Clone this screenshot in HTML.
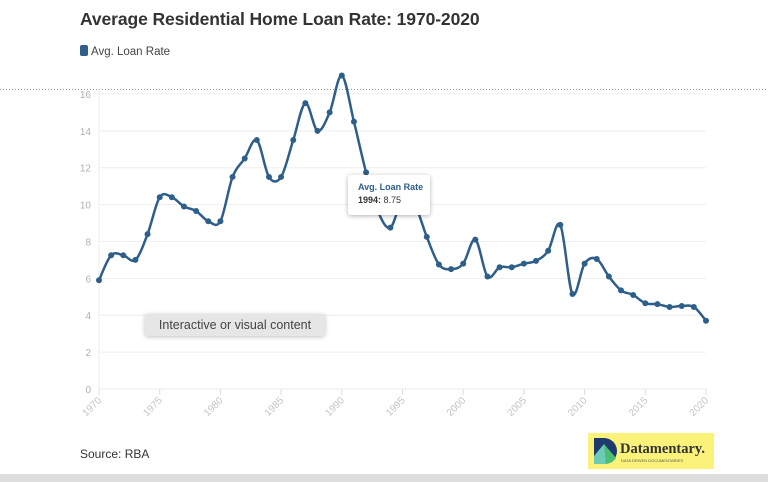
<!DOCTYPE html>
<html><head><meta charset="utf-8"><style>
body{margin:0;width:768px;height:482px;background:#fff;overflow:hidden;position:relative;font-family:"Liberation Sans",sans-serif}
.t{position:absolute;left:80px;top:9px;font-size:17.5px;font-weight:bold;color:#333;letter-spacing:-0.1px}
.lg{position:absolute;left:80px;top:45px;font-size:11.5px;color:#444}
.lg i{display:inline-block;width:8px;height:11px;background:#2e5f8a;border-radius:2px;vertical-align:-1px;margin-right:3px}
.src{position:absolute;left:80px;top:447px;font-size:12px;color:#333}
.tip{position:absolute;left:348px;top:175px;width:82px;height:40px;background:#fff;border-radius:3px;box-shadow:0 1px 5px rgba(0,0,0,.3);font-size:9px;color:#333;padding:6px 0 0 10px;box-sizing:border-box;line-height:13px}
.ov{position:absolute;left:145px;top:314px;width:180px;height:22px;background:#e6e6e6;border-radius:3px;box-shadow:0 1px 5px rgba(0,0,0,.25);font-size:12.5px;color:#444;text-align:center;line-height:22px}
.logo{position:absolute;left:588px;top:433px;width:126px;height:36px;background:#fbf27a}
.bar{position:absolute;left:0;top:474px;width:768px;height:8px;background:#ddd}
</style></head><body>
<div class="t">Average Residential Home Loan Rate: 1970-2020</div>
<div class="lg"><i></i>Avg. Loan Rate</div>
<svg id="s" width="768" height="482" style="position:absolute;left:0;top:0" font-family="Liberation Sans, sans-serif"></svg>
<div class="tip"><b style="color:#2e5f8a">Avg. Loan Rate</b><br><b>1994:</b> 8.75</div>
<div class="ov">Interactive or visual content</div>
<div class="logo"><svg width="30" height="30" style="position:absolute;left:4px;top:3px"><path d="M2 2 H12 A13 13 0 0 1 12 28 H2Z" fill="#1f3a6e"/><path d="M12 8 L24 22 A13 13 0 0 1 12 28Z" fill="#4dbd74"/><path d="M2 20 L12 8 L14 28 H2Z" fill="#6ccbb5"/></svg><div style="position:absolute;left:32px;top:8px;font:bold 14.5px 'Liberation Serif',serif;color:#333">Datamentary.</div><div style="position:absolute;left:33px;top:25px;font-size:4px;color:#555">DATA DRIVEN DOCUMENTARIES</div></div>
<div class="src">Source: RBA</div>
<div class="bar"></div>
<script>
var d=[5.9,7.25,7.25,7.0,8.4,10.4,10.4,9.9,9.65,9.1,9.1,11.5,12.5,13.5,11.5,11.5,13.5,15.5,14.0,15.0,17.0,14.5,11.75,9.6,8.75,10.3,10.0,8.25,6.75,6.5,6.8,8.1,6.1,6.6,6.6,6.8,6.95,7.5,8.9,5.15,6.8,7.05,6.1,5.35,5.1,4.65,4.6,4.45,4.5,4.45,3.7];
var X=y=>99+(y)*12.14,Y=v=>389-v*18.44,s='';
s+='<line x1="0" x2="768" y1="89.5" y2="89.5" stroke="#999" stroke-dasharray="1,2"/>';
for(var v=0;v<=16;v+=2){s+='<line x1="99" x2="706" y1="'+Y(v)+'" y2="'+Y(v)+'" stroke="#eee"/><text x="91" y="'+(Y(v)+4)+'" font-size="10" fill="#b0b0b0" text-anchor="end">'+v+'</text>';}
s+='<line x1="99" x2="99" y1="89" y2="389" stroke="#eee"/>';
for(var yr=0;yr<=50;yr+=5){var x=X(yr);s+='<line x1="'+x+'" x2="'+x+'" y1="389" y2="395" stroke="#ddd"/><text transform="translate('+(x+3)+',401) rotate(-45)" font-size="10" fill="#c4c4c4" text-anchor="end">'+(1970+yr)+'</text>';}
var p=d.map((v,i)=>[X(i),Y(v)]),path='M'+p[0];
for(var i=0;i<p.length-1;i++){var a=p[i-1]||p[i],b=p[i],c=p[i+1],e=p[i+2]||c;
path+='C'+(b[0]+(c[0]-a[0])/6)+','+(b[1]+(c[1]-a[1])/6)+' '+(c[0]-(e[0]-b[0])/6)+','+(c[1]-(e[1]-b[1])/6)+' '+c;}
s+='<path d="'+path+'" fill="none" stroke="#2e5f8a" stroke-width="2.5"/>';
p.forEach(q=>s+='<circle cx="'+q[0]+'" cy="'+q[1]+'" r="3" fill="#2e5f8a"/>');
document.getElementById('s').innerHTML=s;
</script>
</body></html>
